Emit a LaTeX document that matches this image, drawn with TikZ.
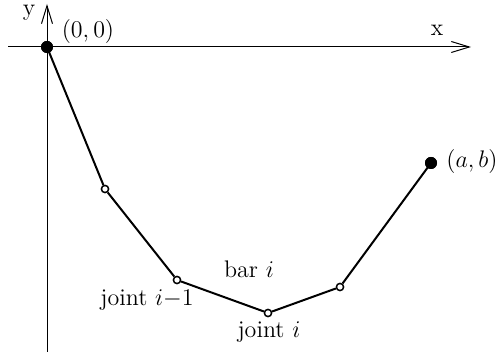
\documentclass[tikz,border=0pt]{standalone}
\usetikzlibrary{arrows.meta}
\begin{document}
\begin{tikzpicture}[x=0.5pt,y=-0.5pt,
  axis/.style={line width=0.5pt,-{Straight Barb[length=9pt,width=5.5pt,line width=0.5pt]}},
  bar/.style={line width=1pt},
  endpt/.style={circle,fill=black,inner sep=0pt,minimum size=6pt},
  jointpt/.style={circle,draw=black,line width=0.75pt,fill=white,inner sep=0pt,minimum size=3.6pt},
  lbl/.style={font=\fontsize{12}{14}\selectfont,inner sep=0pt}]
\useasboundingbox (0,0) rectangle (499,356);
\coordinate (xs) at (8,47);
\coordinate (xe) at (471,47);
\coordinate (ys) at (47,352);
\coordinate (ye) at (47,4);
\draw[axis] (xs) -- (xe);
\draw[axis] (ys) -- (ye);
\node[endpt] (p0) at (47,47) {};
\node[jointpt] (p1) at (105,189) {};
\node[jointpt] (p2) at (177,280) {};
\node[jointpt] (p3) at (268,313) {};
\node[jointpt] (p4) at (340,287) {};
\node[endpt] (p5) at (431,163) {};
\draw[bar] (p0.center) -- (p1) -- (p2) -- (p3) -- (p4) -- (p5.center);
\node[endpt] at (p0) {};
\node[endpt] at (p5) {};
\node[lbl] (ly) at (29,13) {y};
\node[lbl] (lo) at (88,32) {$(0,0)$};
\node[lbl] (lx) at (437,30) {x};
\node[lbl] (lab) at (472,162) {$(a,b)$};
\node[lbl] (lbar) at (249,269) {bar $i$};
\node[lbl] (lj1) at (147,300) {joint $i{-}1$};
\node[lbl] (lj) at (269,332) {joint $i$};
\end{tikzpicture}
\end{document}
